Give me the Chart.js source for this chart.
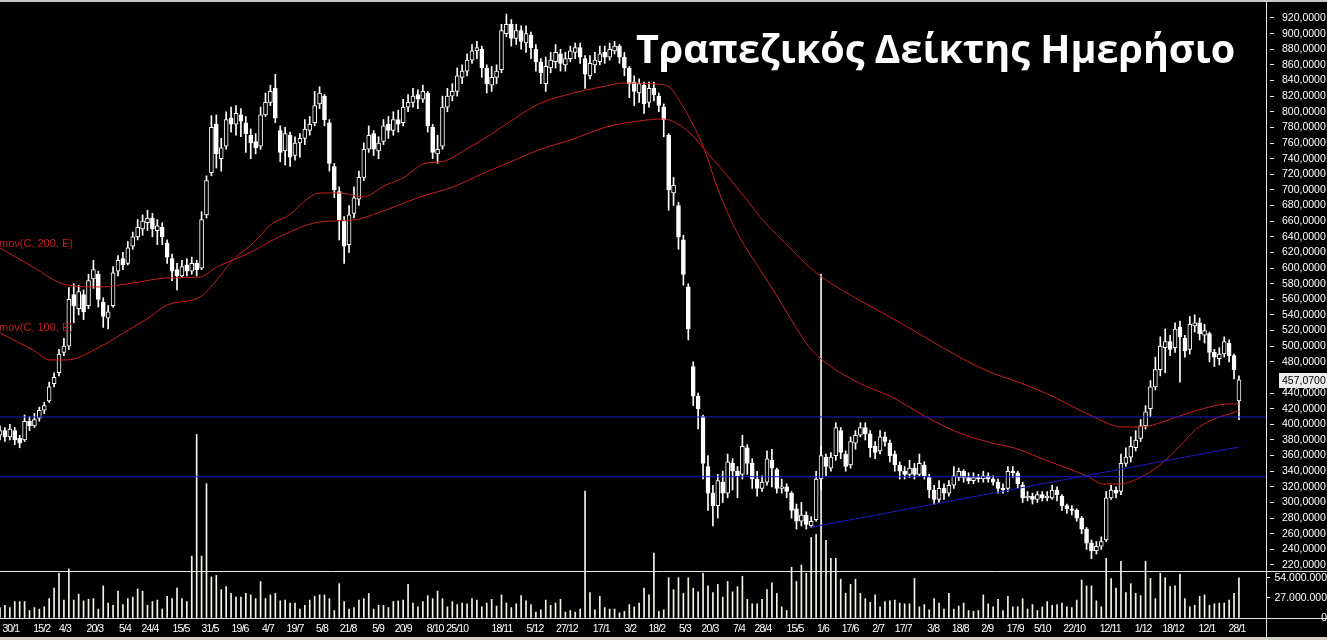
<!DOCTYPE html>
<html><head><meta charset="utf-8">
<script src="https://cdn.jsdelivr.net/npm/chart.js@4.4.1/dist/chart.umd.min.js"></script>
<style>
html,body{margin:0;padding:0;background:#000;}
canvas{display:block;}
</style></head><body>
<canvas id="c" width="1327" height="640"></canvas>
<script>
const titleText = 'Τραπεζικός Δείκτης Ημερήσιο';
const ema200Label = 'mov(C, 200, E)';
const ema100Label = 'mov(C, 100, E)';
const lastPrice = 457.07;

const dateLabels = ['30/1','15/2','4/3','20/3','5/4','24/4','15/5','31/5','19/6','4/7','19/7','5/8','21/8','5/9','20/9','8/10','25/10','18/11','5/12','27/12','17/1','3/2','18/2','5/3','20/3','7/4','28/4','15/5','1/6','17/6','2/7','17/7','3/8','18/8','2/9','17/9','5/10','22/10','12/11','1/12','18/12','12/1','28/1'];
const datePos = [2.2,8.5,13.2,19.3,25.4,30.5,36.8,42.7,48.8,54.5,60.0,65.5,70.8,76.9,82.0,88.5,93.0,102.1,108.8,115.3,122.3,128.2,133.6,139.3,144.4,150.3,155.2,161.7,167.4,172.9,178.6,183.7,189.8,195.3,200.8,206.5,212.0,218.5,225.8,232.5,238.6,245.5,251.6];

const priceTicks = [220,240,260,280,300,320,340,360,380,400,420,440,480,500,520,540,560,580,600,620,640,660,680,700,720,740,760,780,800,820,840,860,880,900,920];
const volTicks = [0, 27000000, 54000000];

const openP = [
386,392,384,392,382,380,404,398,408,418,
430,452,466,492,500,566,548,566,552,586,
592,556,536,552,596,612,606,628,640,650,
658,664,648,652,632,612,598,590,604,596,
606,600,668,722,784,740,756,792,784,796,
786,770,762,756,796,812,830,776,750,770,
744,760,766,776,786,810,820,786,730,698,
660,630,670,688,716,752,772,750,762,784,
776,790,786,806,812,822,816,824,780,746,
756,806,820,826,844,852,866,878,880,856,
834,844,854,900,912,894,904,888,898,880,
864,836,856,864,874,860,868,876,882,868,
846,860,864,876,870,878,884,870,856,838,
824,834,812,830,820,806,770,696,680,636,
576,474,436,410,346,312,296,326,312,350,
340,336,370,350,330,318,326,354,342,318,
320,312,292,276,284,270,278,330,358,344,
360,392,362,348,376,386,396,388,372,366,
384,376,362,348,340,336,344,336,348,332,
316,304,318,312,322,332,340,332,328,332,
330,334,330,326,318,318,340,338,322,306,
308,304,310,306,306,316,308,296,292,290,
280,266,248,238,244,252,306,316,314,350,
358,370,382,398,420,448,470,498,506,498,
524,510,496,526,530,514,516,492,484,490,
504,488,430];
const highP = [
398,396,400,396,386,412,410,414,422,428,
454,466,496,510,575,580,578,572,592,610,
596,562,552,602,616,620,634,646,662,668,
674,670,662,658,636,618,606,610,612,614,
610,672,718,795,796,766,800,806,808,804,
794,778,772,806,824,834,848,782,780,774,
768,772,790,794,826,832,822,790,734,704,
666,680,704,724,760,782,776,768,790,794,
800,802,816,822,830,828,834,826,784,770,
820,830,836,856,860,874,886,890,884,860,
858,860,912,925,918,912,910,910,902,886,
868,870,876,886,880,876,884,888,888,872,
872,876,884,884,888,890,886,876,858,846,
842,838,838,838,824,810,772,716,684,642,
580,480,440,412,360,322,336,340,362,356,
346,386,374,356,340,334,366,368,344,330,
324,314,298,300,288,282,340,372,362,364,
402,396,366,384,392,402,402,392,378,392,
390,380,366,352,346,354,350,362,352,336,
322,328,324,328,346,344,342,338,338,336,
340,338,334,330,324,346,346,340,326,314,
312,314,314,314,322,320,310,298,296,292,
282,268,252,250,256,314,322,320,362,370,
384,392,406,424,456,486,512,522,514,530,
532,514,538,540,536,528,518,496,498,512,
508,490,462];
const lowP = [
380,378,380,374,370,378,392,396,404,414,
428,448,462,488,496,530,540,534,548,574,
550,524,522,550,590,598,604,624,636,642,
648,640,630,630,606,584,572,588,590,592,
590,598,664,718,728,724,752,774,770,768,
748,740,746,752,794,808,786,736,732,730,
738,742,758,770,782,804,782,724,690,636,
606,620,664,680,712,748,744,740,758,766,
770,774,782,800,806,804,812,774,740,734,
752,800,814,820,836,846,862,868,844,824,
826,836,850,896,884,886,880,876,868,852,
836,826,850,856,852,852,864,868,862,830,
842,850,860,862,866,874,862,846,818,808,
812,798,806,814,800,768,674,680,624,578,
508,424,394,330,290,270,280,300,306,316,
306,330,336,318,308,314,322,320,312,312,
306,280,266,270,266,268,276,316,334,340,
354,356,340,344,368,384,380,358,356,362,
372,352,340,330,330,332,330,334,330,306,
298,300,304,308,318,328,326,324,324,326,
326,326,322,312,312,314,332,318,300,302,
298,300,302,302,304,302,290,286,284,276,
260,240,228,234,240,250,304,306,310,346,
352,366,378,394,410,444,462,466,488,492,
454,486,490,518,508,504,480,474,476,486,
480,458,406];
const closeP = [
392,384,394,380,376,404,398,406,418,424,
448,460,490,500,560,552,570,544,584,598,
560,538,544,594,610,604,626,640,652,660,
664,650,654,640,614,596,590,602,596,606,
598,662,712,780,746,754,790,784,798,788,
772,760,754,796,812,826,792,748,772,742,
760,766,778,784,808,824,790,734,700,662,
628,668,690,716,752,770,752,760,782,776,
790,784,806,812,820,816,826,782,748,752,
806,820,826,846,852,866,878,882,856,836,
844,852,904,912,894,904,890,900,882,864,
850,858,866,876,862,868,878,882,870,848,
862,866,874,870,880,884,870,856,836,826,
836,810,830,822,808,790,700,706,640,592,
522,436,420,350,312,296,328,312,352,340,
334,372,350,330,318,326,356,344,318,320,
314,290,276,284,272,276,330,360,346,358,
396,364,346,378,386,396,388,370,364,384,
378,360,348,340,336,344,336,350,334,316,
304,318,312,322,334,340,332,328,332,330,
334,330,326,318,316,340,338,324,306,308,
304,310,306,308,316,310,296,292,290,280,
266,248,238,244,250,306,316,312,350,358,
372,380,398,416,448,470,500,506,496,522,
512,494,528,530,516,520,492,486,490,506,
488,470,457.07];

// volume in millions
const volume = [
14,17,14,22,22,22,10,14,12,15,
26,40,60,24,66,24,32,23,25,26,
12,43,20,17,36,18,26,28,39,36,
17,22,24,12,29,26,40,26,22,83,
246,83,180,55,57,38,42,33,28,28,
33,31,26,49,26,31,33,23,24,20,
20,12,17,24,29,31,31,26,10,46,
22,12,14,24,26,33,12,17,17,14,
22,23,24,45,20,15,22,30,26,36,
26,15,22,18,20,19,26,24,15,20,
25,16,31,20,14,19,30,23,18,8,
11,24,17,20,25,8,10,8,12,170,
34,11,29,14,12,12,7,9,18,15,
20,40,31,87,9,11,54,38,54,33,
54,40,35,60,43,34,45,28,49,35,
42,56,25,19,19,25,38,47,33,15,
10,68,49,71,60,108,112,461,104,80,
80,52,33,45,52,33,26,21,31,15,
22,23,24,20,19,19,53,15,18,11,
26,20,12,33,12,16,20,10,9,10,
31,19,15,25,10,29,15,15,26,12,
18,10,15,22,17,18,20,15,14,24,
51,43,43,23,15,80,53,40,76,34,
46,33,30,76,53,26,60,54,42,43,
59,26,15,17,29,31,17,19,20,20,
24,33,54];

const ema200Idx = [0,6.7,13.6,20.3,27.1,34.0,40.7,44.1,47.4,51.9,55.5,65.1,71.8,78.5,85.4,92.1,98.9,103.3,109.6,116.6,123.3,130.0,134.9,137.5,141.0,143.0,147.1,151.7,154.8,161.1,164.6,168.0,174.7,181.4,188.4,195.1,201.8,205.9,212.6,222.1,228.2,232.3,236.4,243.1,250.0,252.0];
const ema200 = [625.7,601.4,578.3,575.8,580.9,587.3,588.6,601.4,610.3,623.1,635.9,659.0,661.5,674.3,691.0,703.7,722.9,734.5,751.1,765.2,780.5,788.2,790.8,785.6,769.0,753.7,724.2,689.0,664.0,623.1,601.4,584.7,559.2,536.1,510.5,486.2,465.7,456.8,440.1,410.7,396.6,396.6,403.0,417.1,426.1,426.1];
const ema100Idx = [0,6.7,10.2,13.6,20.3,27.1,30.5,34.0,40.7,44.1,47.4,51.5,55.5,58.2,65.1,69.2,73.8,78.5,82.0,86.7,89.5,95.6,100.3,103.3,109.6,116.6,123.3,126.7,133.4,136.1,138.1,141.0,143.0,146.3,150.3,154.8,158.5,164.6,168.0,174.7,181.4,188.4,195.1,201.8,206.3,212.6,221.5,224.2,227.6,232.9,236.4,239.8,243.1,246.5,252.0];
const ema100 = [516.9,495.2,482.4,482.4,499.0,524.6,537.4,552.8,563.0,584.7,610.3,632.1,657.7,665.4,696.1,696.1,691.0,706.3,715.3,734.5,735.7,754.9,772.8,785.6,810.0,824.0,833.0,836.8,835.5,831.7,815.1,783.1,756.2,696.1,641.0,596.3,559.2,499.0,478.5,453.0,435.0,409.4,389.0,376.2,369.8,354.4,332.7,323.7,323.7,335.2,350.6,371.1,392.8,405.6,417.1];

const hLevels = [409.4, 332.9];
const trendIdx = [164.6, 252.0];
const trendVal = [268.0, 371.0];

const X_MAX = 257.5;
const fmtPrice = v => v.toFixed(4).replace('.', ',');
const fmtVol = v => String(Math.round(v)).replace(/\B(?=(\d{3})+(?!\d))/g, '.');

Chart.defaults.font.family = '"Liberation Sans", Arial, sans-serif';
Chart.defaults.color = '#ffffff';

const noPad = s => { s.paddingTop = 0; s.paddingBottom = 0; s.paddingLeft = 0; s.paddingRight = 0; };

const decor = {
  id: 'decor',
  beforeDraw(chart) {
    const {ctx, width, height} = chart;
    ctx.save(); ctx.fillStyle = '#000'; ctx.fillRect(0, 0, width, height); ctx.restore();
    // tighter letter spacing for the date labels
    const xs = chart.scales.x;
    if (xs && !xs._tight) {
      const orig = xs.drawLabels.bind(xs);
      xs.drawLabels = area => {
        const c = xs.ctx; c.save();
        if ('letterSpacing' in c) c.letterSpacing = '-0.9px';
        orig(area); c.restore();
      };
      xs._tight = true;
    }
  },
  afterDraw(chart) {
    const {ctx, width, height, chartArea} = chart;
    const y = chart.scales.y, yv = chart.scales.yv;
    ctx.save();
    ctx.fillStyle = '#c8c8c8'; ctx.fillRect(0, 0, width, 2);
    ctx.fillStyle = '#d4d0c8'; ctx.fillRect(0, 637, width, 3);
    ctx.strokeStyle = '#e6e6e6'; ctx.lineWidth = 1;
    ctx.beginPath();
    const sep = Math.round(yv.top) + 0.5;
    ctx.moveTo(0, sep); ctx.lineTo(width, sep);
    const bot = Math.round(chartArea.bottom) + 0.5;
    ctx.moveTo(0, bot); ctx.lineTo(width, bot);
    const vx = Math.round(chartArea.right) + 0.5;
    ctx.moveTo(vx, 2); ctx.lineTo(vx, height);
    ctx.stroke();
    // last price box
    const py = Math.round(y.getPixelForValue(lastPrice));
    ctx.fillStyle = '#ececec'; ctx.fillRect(1279, py - 7, 48, 15);
    ctx.fillStyle = '#000'; ctx.font = '10.5px "Liberation Sans"';
    ctx.textBaseline = 'middle'; ctx.textAlign = 'left';
    ctx.fillText(fmtPrice(lastPrice), 1282, py + 1);
    // MA labels
    ctx.fillStyle = '#c41e1e'; ctx.font = '11px "Liberation Sans"';
    ctx.textBaseline = 'alphabetic';
    ctx.fillText(ema200Label, -1, y.getPixelForValue(ema200[0]) - 1);
    ctx.fillText(ema100Label, -1, y.getPixelForValue(ema100[0]) - 2);
    // title
    ctx.fillStyle = '#ffffff'; ctx.font = 'bold 39.5px "Open Sans"';
    ctx.fillText(titleText, 636, 63);
    ctx.restore();
  }
};

const redLine = '#c81e1e';
const blueLine = '#1c1cc4';

new Chart(document.getElementById('c'), {
  type: 'bar',
  data: {
    datasets: [
      { type: 'bar', label: 'Volume', yAxisID: 'yv', xAxisID: 'x',
        data: volume.map((v, i) => ({x: i, y: v * 1000000})),
        backgroundColor: '#f6f4e6', barThickness: 1, grouped: false, order: 10, clip: false },
      { type: 'bar', label: 'Range', yAxisID: 'y',
        data: lowP.map((l, i) => ({x: i, y: [l, highP[i]]})),
        backgroundColor: '#ffffff', barThickness: 1, grouped: false, order: 6 },
      { type: 'bar', label: 'Body', yAxisID: 'y',
        data: openP.map((o, i) => ({x: i, y: [o, closeP[i]]})),
        backgroundColor: ctx => (closeP[ctx.dataIndex] < openP[ctx.dataIndex] ? '#ffffff' : '#000000'),
        borderColor: '#ffffff', borderWidth: 1, borderSkipped: false,
        barThickness: 4, grouped: false, order: 5 },
      { type: 'line', label: ema200Label, yAxisID: 'y',
        data: ema200.map((v, i) => ({x: ema200Idx[i], y: v})),
        borderColor: redLine, borderWidth: 1, pointRadius: 0, cubicInterpolationMode: 'monotone', order: 3 },
      { type: 'line', label: ema100Label, yAxisID: 'y',
        data: ema100.map((v, i) => ({x: ema100Idx[i], y: v})),
        borderColor: redLine, borderWidth: 1, pointRadius: 0, cubicInterpolationMode: 'monotone', order: 3 },
      ...hLevels.map(lv => ({ type: 'line', label: 'level', yAxisID: 'y',
        data: [{x: 0, y: lv}, {x: X_MAX, y: lv}],
        borderColor: blueLine, borderWidth: 1, pointRadius: 0, order: 2 })),
      { type: 'line', label: 'trend', yAxisID: 'y',
        data: trendVal.map((v, i) => ({x: trendIdx[i], y: v})),
        borderColor: blueLine, borderWidth: 1, pointRadius: 0, order: 2 }
    ]
  },
  options: {
    responsive: false, animation: false, devicePixelRatio: 1,
    layout: { padding: { top: 3, bottom: 3, left: 0, right: 0 } },
    plugins: { legend: { display: false }, tooltip: { enabled: false } },
    scales: {
      y: {
        type: 'linear', position: 'right', stack: 'r', stackWeight: 568,
        min: 212.32, max: 939.19,
        afterBuildTicks: s => { s.ticks = priceTicks.map(v => ({value: v})); },
        afterFit: s => { s.width = 61; noPad(s); },
        grid: { drawOnChartArea: false, color: '#ffffff', tickLength: 8, tickBorderDash: [0, 4, 4, 40] },
        border: { display: false },
        ticks: { color: '#ffffff', font: { size: 10.5 }, padding: 8, autoSkip: false, callback: v => fmtPrice(v) }
      },
      yv: {
        type: 'linear', position: 'right', stack: 'r', stackWeight: 47,
        min: 0, max: 63000000,
        afterBuildTicks: s => { s.ticks = volTicks.map(v => ({value: v})); },
        afterFit: s => { s.width = 61; noPad(s); },
        grid: { drawOnChartArea: false, color: '#ffffff', tickLength: 4 },
        border: { display: false },
        ticks: { color: '#ffffff', font: { size: 10.5 }, padding: 2, crossAlign: 'far', autoSkip: false, callback: v => fmtVol(v) }
      },
      x: {
        type: 'linear', position: 'bottom', min: 0, max: X_MAX, offset: false,
        afterBuildTicks: s => { s.ticks = datePos.map(v => ({value: v})); },
        afterFit: s => { s.height = 19; noPad(s); },
        grid: { display: false, drawTicks: false },
        border: { display: false },
        ticks: { color: '#ffffff', font: { size: 10.5 },
                 padding: 5, autoSkip: false, maxRotation: 0,
                 callback: (v, i) => dateLabels[i] }
      }
    }
  },
  plugins: [decor]
});
</script>
</body></html>
